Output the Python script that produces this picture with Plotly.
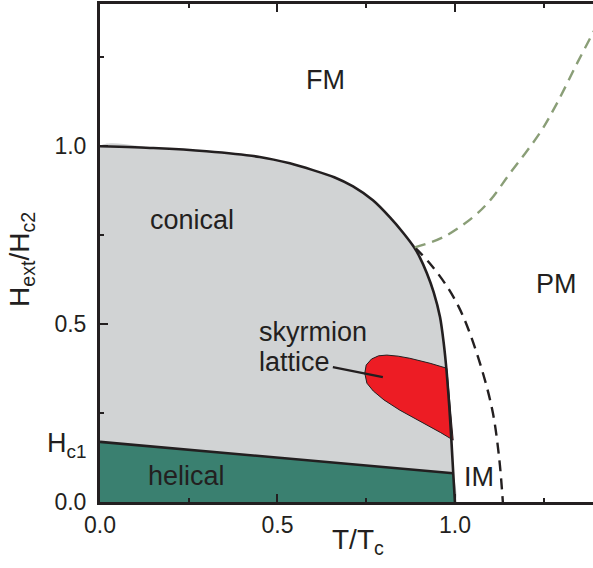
import plotly.graph_objects as go

# Phase boundaries of the magnetic phase diagram (T/Tc, Hext/Hc2)
conical_T = [0.0, 0.15, 0.30, 0.45, 0.535, 0.60, 0.66, 0.713, 0.769, 0.817, 0.854, 0.885,
             0.90, 0.921, 0.94, 0.958, 0.968, 0.977, 0.984, 0.99, 0.995, 1.0]
conical_H = [1.0, 0.995, 0.986, 0.97, 0.952, 0.933, 0.913, 0.887, 0.848, 0.80, 0.757, 0.716,
             0.69, 0.643, 0.59, 0.52, 0.45, 0.362, 0.27, 0.174, 0.085, 0.0]

helical_T = [0.0, 0.995]
helical_H = [0.169, 0.081]

skyrmion_T = [0.746, 0.750, 0.765, 0.785, 0.808, 0.84, 0.873, 0.93, 0.977, 0.983, 0.99, 0.995,
              0.96, 0.921, 0.845, 0.80, 0.77, 0.752, 0.746]
skyrmion_H = [0.362, 0.385, 0.402, 0.411, 0.413, 0.41, 0.404, 0.39, 0.376, 0.30, 0.22, 0.174,
              0.195, 0.216, 0.258, 0.287, 0.312, 0.334, 0.362]

im_T = [0.887, 0.93, 0.975, 1.01, 1.04, 1.079, 1.107, 1.125, 1.135]
im_H = [0.716, 0.67, 0.61, 0.55, 0.48, 0.362, 0.25, 0.12, 0.0]

pm_T = [0.887, 0.966, 1.05, 1.099, 1.155, 1.239, 1.287, 1.344, 1.40]
pm_H = [0.716, 0.744, 0.80, 0.848, 0.924, 1.037, 1.12, 1.233, 1.34]

pointer_T = [0.656, 0.797]
pointer_H = [0.379, 0.351]

tick_vals = [0.0, 0.5, 1.0]
tick_text = ["0.0", "0.5", "1.0"]

INK = "#231F20"
GRAY = "#D1D3D4"
TEAL = "#3A8070"
RED = "#ED1C24"
SAGE = "#8A9E77"
FONT = "Liberation Sans, Arial, Helvetica, sans-serif"

fig = go.Figure()

# conical region
fig.add_trace(go.Scatter(
    x=conical_T + [0.0, 0.0], y=conical_H + [0.0, 1.0],
    fill="toself", fillcolor=GRAY, mode="lines", line=dict(width=0),
    line_shape="spline", line_smoothing=0.6, hoverinfo="skip"))

# helical region
fig.add_trace(go.Scatter(
    x=[0.0] + helical_T + [1.0, 0.0], y=[0.0] + helical_H + [0.0, 0.0],
    fill="toself", fillcolor=TEAL, mode="lines", line=dict(width=0),
    hoverinfo="skip"))

# skyrmion lattice pocket
fig.add_trace(go.Scatter(
    x=skyrmion_T, y=skyrmion_H, fill="toself", fillcolor=RED,
    mode="lines", line=dict(color=INK, width=1), hoverinfo="skip"))

# boundary lines
fig.add_trace(go.Scatter(x=conical_T, y=conical_H, mode="lines",
                         line_shape="spline", line_smoothing=0.6,
                         line=dict(color=INK, width=2.6)))
fig.add_trace(go.Scatter(x=helical_T, y=helical_H, mode="lines",
                         line=dict(color=INK, width=2.6)))
fig.add_trace(go.Scatter(x=im_T, y=im_H, mode="lines", line_shape="spline",
                         line=dict(color=INK, width=2.4, dash="11px,7px")))
fig.add_trace(go.Scatter(x=pm_T, y=pm_H, mode="lines", line_shape="spline",
                         line=dict(color=SAGE, width=2.4, dash="11px,7px")))
fig.add_trace(go.Scatter(x=pointer_T, y=pointer_H, mode="lines",
                         line=dict(color=INK, width=2.2)))

def label(text, x, y, size=27, **kw):
    fig.add_annotation(x=x, y=y, xref="x", yref="y", text=text, showarrow=False,
                       font=dict(family=FONT, size=size, color=INK), **kw)

label("FM", 0.634, 1.187)
label("PM", 1.285, 0.614)
label("conical", 0.259, 0.793)
label("helical", 0.243, 0.074)
label("IM", 1.068, 0.069)
label("skyrmion", 0.442, 0.478, xanchor="left")
label("lattice", 0.442, 0.393, xanchor="left")
label("H<sub>c1</sub>", 0.0, 0.16, xanchor="right", xshift=-12)

# axis titles
fig.add_annotation(x=-0.2, y=0.683, xref="paper", yref="y",
                   text="H<sub>ext</sub>/H<sub>c2</sub>", textangle=-90, showarrow=False,
                   font=dict(family=FONT, size=28, color=INK))
fig.add_annotation(x=0.727, y=-0.118, xref="x", yref="paper",
                   text="T/T<sub>c</sub>", showarrow=False,
                   font=dict(family=FONT, size=28, color=INK))

axis_common = dict(
    showgrid=False, zeroline=False, showline=True, linecolor=INK, linewidth=3,
    ticks="inside", ticklen=8, tickwidth=2, tickcolor=INK,
    tickvals=tick_vals, ticktext=tick_text,
    tickfont=dict(family=FONT, size=23, color=INK),
    minor=dict(ticks="inside", ticklen=4, tickwidth=1.5, tickcolor=INK, dtick=0.25),
)

fig.update_xaxes(range=[0, 1.389], mirror="ticks", ticklabelstandoff=0, **axis_common)
fig.update_yaxes(range=[0, 1.4], mirror=False, ticklabelstandoff=6, **axis_common)

fig.update_layout(
    width=593, height=568,
    margin=dict(l=100, r=0, t=4, b=66),
    plot_bgcolor="white", paper_bgcolor="white",
    showlegend=False,
)

fig.write_html("out.html")
